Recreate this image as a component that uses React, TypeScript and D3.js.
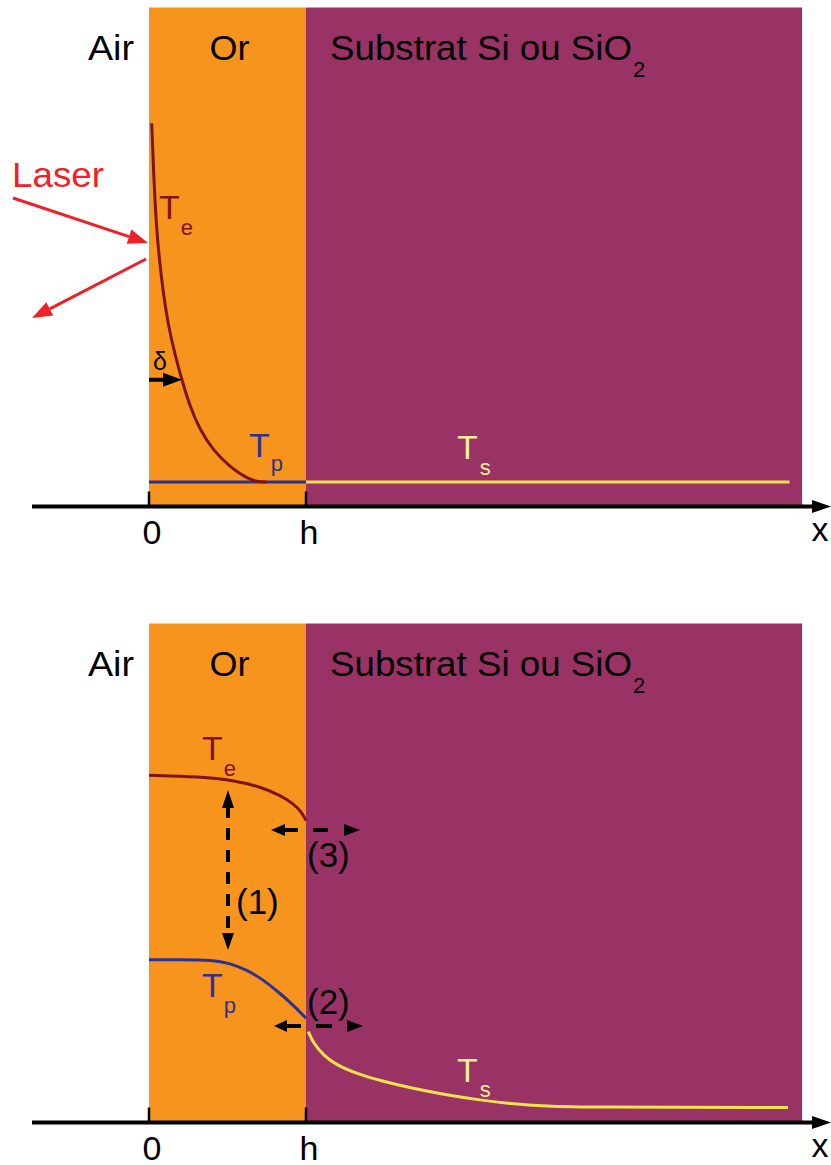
import React from "react";
import * as d3 from "d3";

// ---------- Data ----------
// x in units of gold-film thickness h (0 = air/gold interface, 1 = h)
// T in arbitrary temperature units (0 = axis)
const teTopX = [0.017, 0.032, 0.049, 0.081, 0.123, 0.166, 0.208, 0.261, 0.325, 0.408, 0.516, 0.622, 0.686, 0.75];
const teTopT = [76.8, 64.9, 54.9, 44.9, 36.1, 30.4, 25.5, 20.0, 15.3, 11.3, 7.9, 5.7, 4.95, 4.9];
const tpTopX = [0, 1];
const tpTopT = [4.9, 4.9];
const tsTopX = [1, 4.08];
const tsTopT = [4.9, 4.9];

const teBotX = [0, 0.325, 0.537, 0.707, 0.834, 0.919, 0.973, 1.0];
const teBotT = [69.6, 69.3, 68.6, 67.3, 65.6, 63.9, 62.2, 60.5];
const tpBotX = [0, 0.197, 0.409, 0.516, 0.622, 0.728, 0.834, 0.919, 1.0];
const tpBotT = [32.6, 32.6, 32.6, 31.9, 30.6, 28.6, 25.9, 23.5, 20.9];
const tsBotX = [1.015, 1.047, 1.11, 1.195, 1.323, 1.471, 1.683, 1.896, 2.108, 2.32, 2.533, 2.745, 4.07];
const tsBotT = [18.2, 15.9, 13.5, 11.5, 9.8, 8.4, 6.8, 5.5, 4.5, 3.7, 3.3, 3.05, 3.0];

const tickLabels = ["0", "h"];
const tickValues = [0, 1];
const regionLabels = ["Air", "Or", "Substrat Si ou SiO"];

// ---------- Styles ----------
const W = 831;
const H = 1165;
const ORANGE = "#F7941E";
const PURPLE = "#993366";
const TE = "#7F1416";
const TP = "#2E3192";
const TS = "#F2E34C";
const TS_TXT = "#F9EE98";
const RED = "#ED2127";
const FONT = "'Liberation Sans', Arial, sans-serif";

const xScale = d3.scaleLinear().domain([0, 1]).range([149, 306]);
const X_MIN = -0.745;
const X_END = 4.16;

function head(tx: number, ty: number, fx: number, fy: number, len: number, hw: number) {
  const a = Math.atan2(ty - fy, tx - fx);
  const bx = tx - len * Math.cos(a);
  const by = ty - len * Math.sin(a);
  const px = -Math.sin(a) * hw;
  const py = Math.cos(a) * hw;
  return {
    pts: `${tx},${ty} ${bx + px},${by + py} ${bx - px},${by - py}`,
    bx,
    by,
  };
}

function Arrow({ x1, y1, x2, y2, color, w = 3.5, len = 16, hw = 6.5, dash }: any) {
  const h = head(x2, y2, x1, y1, len, hw);
  return (
    <g>
      <line x1={x1} y1={y1} x2={h.bx} y2={h.by} stroke={color} strokeWidth={w} strokeDasharray={dash} />
      <polygon points={h.pts} fill={color} />
    </g>
  );
}

function TLabel({ x, y, sub, color, subDx = 2, subDy = 15 }: any) {
  return (
    <text x={x} y={y} fill={color} fontFamily={FONT} fontSize={34}>
      T
      <tspan dx={subDx} dy={subDy} fontSize={22}>
        {sub}
      </tspan>
    </text>
  );
}

function Panel({ top, axisY, children, curves }: any) {
  const yScale = d3.scaleLinear().domain([0, 100]).range([axisY, top]);
  const line = d3
    .line<[number, number]>()
    .x((d) => xScale(d[0]))
    .y((d) => yScale(d[1]))
    .curve(d3.curveBasis);
  const zip = (xs: number[], ts: number[]) => xs.map((v, i) => [v, ts[i]] as [number, number]);
  const x0 = xScale(X_MIN);
  const xEnd = xScale(X_END);
  const bottom = axisY - 1.5;
  return (
    <g>
      <rect x={xScale(0)} y={top} width={xScale(1) - xScale(0)} height={bottom - top} fill={ORANGE} />
      <rect x={xScale(1)} y={top} width={xEnd - xScale(1)} height={bottom - top} fill={PURPLE} />
      {curves.map((c: any, i: number) => (
        <path key={i} d={line(zip(c.x, c.t)) || ""} fill="none" stroke={c.color} strokeWidth={3} />
      ))}
      {/* axis */}
      <line x1={x0} y1={axisY} x2={813} y2={axisY} stroke="#000" strokeWidth={4} />
      <polygon points={`831,${axisY} 812,${axisY - 6.5} 812,${axisY + 6.5}`} fill="#000" />
      {tickValues.map((v, i) => (
        <g key={i}>
          <line x1={xScale(v)} x2={xScale(v)} y1={axisY - 15} y2={axisY} stroke="#000" strokeWidth={2.5} />
          <text
            x={xScale(v) + 3}
            y={axisY + 37}
            textAnchor="middle"
            fontFamily={FONT}
            fontSize={34}
            fill="#000"
          >
            {tickLabels[i]}
          </text>
        </g>
      ))}
      <text x={820} y={axisY + 34} textAnchor="middle" fontFamily={FONT} fontSize={34} fill="#000">
        x
      </text>
      {/* region labels */}
      <text x={111} y={top + 52} textAnchor="middle" fontFamily={FONT} fontSize={35} fill="#000" textLength={46} lengthAdjust="spacingAndGlyphs">
        {regionLabels[0]}
      </text>
      <text x={229.5} y={top + 52} textAnchor="middle" fontFamily={FONT} fontSize={35} fill="#000" textLength={40} lengthAdjust="spacingAndGlyphs">
        {regionLabels[1]}
      </text>
      <text x={330} y={top + 52} fontFamily={FONT} fontSize={35} fill="#000" textLength={302} lengthAdjust="spacingAndGlyphs">
        {regionLabels[2]}
      </text>
      <text x={633} y={top + 69} fontFamily={FONT} fontSize={22} fill="#000">
        2
      </text>
      {children(yScale)}
    </g>
  );
}

export default function App() {
  const top1 = 7.5;
  const axis1 = 506.5;
  const top2 = 623.5;
  const axis2 = 1122.5;
  return (
    <svg
      width={W}
      height={H}
      viewBox={`0 0 ${W} ${H}`}
      style={{ position: "absolute", left: 0, top: 0, background: "#fff" }}
    >
      <Panel
        top={top1}
        axisY={axis1}
        curves={[
          { x: tpTopX, t: tpTopT, color: TP },
          { x: tsTopX, t: tsTopT, color: TS },
          { x: teTopX, t: teTopT, color: TE },
        ]}
      >
        {(y: any) => (
          <g>
            <text x={12} y={187} fontFamily={FONT} fontSize={35} fill={RED} textLength={92} lengthAdjust="spacingAndGlyphs">
              Laser
            </text>
            <Arrow x1={13} y1={198} x2={148} y2={243} color={RED} w={3} len={20} hw={7.5} />
            <Arrow x1={146} y1={259} x2={32} y2={318} color={RED} w={3} len={20} hw={7.5} />
            <text x={153} y={370} fontFamily={FONT} fontSize={25} fill="#000">
              δ
            </text>
            <Arrow x1={xScale(0)} y1={y(25.4)} x2={xScale(0.21)} y2={y(25.4)} color="#000" w={4} len={19} hw={7} />
            <TLabel x={159} y={219} sub="e" color={TE} subDx={1} subDy={16} />
            <TLabel x={249} y={457} sub="p" color={TP} subDx={1} subDy={14} />
            <TLabel x={457} y={459} sub="s" color={TS_TXT} subDx={2} subDy={16} />
          </g>
        )}
      </Panel>
      <Panel
        top={top2}
        axisY={axis2}
        curves={[
          { x: teBotX, t: teBotT, color: TE },
          { x: tpBotX, t: tpBotT, color: TP },
          { x: tsBotX, t: tsBotT, color: TS },
        ]}
      >
        {(y: any) => (
          <g>
            <TLabel x={202} y={760} sub="e" color={TE} subDx={1} subDy={16} />
            <TLabel x={202} y={997} sub="p" color={TP} subDx={1} subDy={16} />
            <TLabel x={457} y={1082} sub="s" color={TS_TXT} subDx={2} subDy={15} />
            {/* (1) vertical double arrow */}
            <line x1={228} x2={228} y1={806} y2={934} stroke="#000" strokeWidth={4} strokeDasharray="12 10" />
            <polygon points="228,790 222,808 234,808" fill="#000" />
            <polygon points="228,950 222,933 234,933" fill="#000" />
            <text x={236} y={914} fontFamily={FONT} fontSize={35} fill="#000">
              (1)
            </text>
            {/* (3) */}
            <Arrow x1={298} y1={830} x2={271} y2={830} color="#000" w={4} len={14} hw={6} />
            <line x1={313} x2={328} y1={830} y2={830} stroke="#000" strokeWidth={4} />
            <polygon points="360,830 344,824 344,836" fill="#000" />
            <text x={307} y={867} fontFamily={FONT} fontSize={35} fill="#000">
              (3)
            </text>
            {/* (2) */}
            <Arrow x1={301} y1={1026} x2={274} y2={1026} color="#000" w={4} len={13} hw={6} />
            <line x1={316} x2={332} y1={1026} y2={1026} stroke="#000" strokeWidth={4} />
            <polygon points="363,1026 347,1020 347,1032" fill="#000" />
            <text x={307} y={1014} fontFamily={FONT} fontSize={35} fill="#000">
              (2)
            </text>
          </g>
        )}
      </Panel>
    </svg>
  );
}
